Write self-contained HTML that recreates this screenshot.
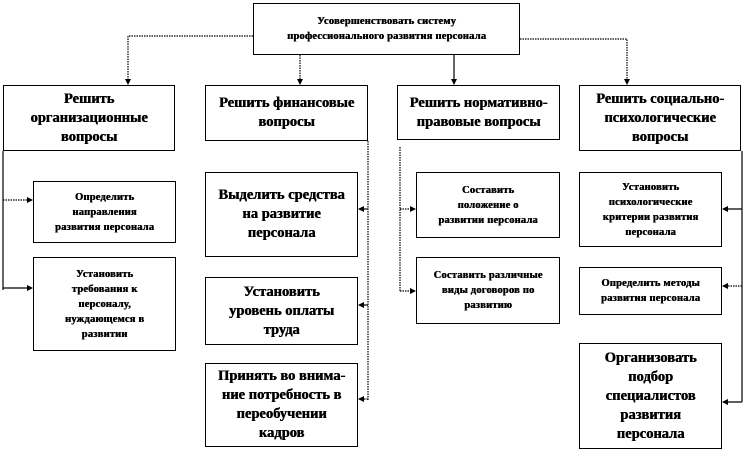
<!DOCTYPE html>
<html><head><meta charset="utf-8"><style>
body{margin:0;width:745px;height:453px;background:#fff;position:relative;overflow:hidden}
.b{position:absolute;box-sizing:border-box;border:1px solid #000;background:#fff;display:flex;align-items:center;justify-content:center;text-align:center;font-family:"Liberation Serif","DejaVu Serif",serif;font-weight:bold;color:#000;text-shadow:0.5px 0 0 #000}
.s{font-size:10.5px;line-height:15px;letter-spacing:0.2px}
.m{font-size:14.5px;line-height:19px}
svg{position:absolute;left:0;top:0}
</style></head><body>
<svg width="745" height="453">
<defs><marker id="a" markerWidth="6" markerHeight="6" refX="5" refY="3" orient="auto" markerUnits="userSpaceOnUse"><path d="M0,0L6,3L0,6z" fill="#000"/></marker></defs>
<g stroke="#000" stroke-width="1.2" fill="none">
<polyline points="253,36 128,36 128,84" stroke-dasharray="1.5,1" marker-end="url(#a)"/>
<line x1="300" y1="55" x2="300" y2="84" stroke-dasharray="1.5,1" marker-end="url(#a)"/>
<line x1="454" y1="55" x2="454" y2="84" marker-end="url(#a)"/>
<polyline points="520,39 627,39 627,84" stroke-dasharray="1.5,1" marker-end="url(#a)"/>
<line x1="3" y1="151" x2="3" y2="290"/>
<line x1="3" y1="200" x2="32" y2="200" stroke-dasharray="1.5,1" marker-end="url(#a)"/>
<line x1="3" y1="288" x2="32" y2="288" marker-end="url(#a)"/>
<line x1="368" y1="141" x2="368" y2="400" stroke-dasharray="1.5,1"/>
<line x1="368" y1="209" x2="359" y2="209" marker-end="url(#a)"/>
<line x1="368" y1="305" x2="359" y2="305" marker-end="url(#a)"/>
<line x1="368" y1="399" x2="359" y2="399" stroke-dasharray="1.5,1" marker-end="url(#a)"/>
<line x1="400" y1="147" x2="400" y2="291" stroke-dasharray="1.5,1"/>
<line x1="400" y1="209" x2="415" y2="209" stroke-dasharray="1.5,1" marker-end="url(#a)"/>
<line x1="400" y1="291" x2="415" y2="291" stroke-dasharray="1.5,1" marker-end="url(#a)"/>
<line x1="742" y1="151" x2="742" y2="402"/>
<line x1="742" y1="209" x2="723" y2="209" marker-end="url(#a)"/>
<line x1="742" y1="286" x2="723" y2="286" stroke-dasharray="1.5,1" marker-end="url(#a)"/>
<line x1="742" y1="402" x2="723" y2="402" marker-end="url(#a)"/>
</g></svg>
<div class="b s" style="left:253px;top:3px;width:267px;height:52px">Усовершенствовать систему<br>профессионального развития персонала</div>
<div class="b m" style="left:3px;top:85px;width:172px;height:66px">Решить<br>организационные<br>вопросы</div>
<div class="b m" style="left:205px;top:85px;width:163px;height:56px">Решить финансовые<br>вопросы</div>
<div class="b m" style="left:397px;top:85px;width:163px;height:55px">Решить нормативно-<br>правовые вопросы</div>
<div class="b m" style="left:579px;top:85px;width:162px;height:66px">Решить социально-<br>психологические<br>вопросы</div>
<div class="b s" style="left:33px;top:181px;width:143px;height:62px">Определить<br>направления<br>развития персонала</div>
<div class="b s" style="left:33px;top:257px;width:143px;height:94px">Установить<br>требования к<br>персоналу,<br>нуждающемся в<br>развитии</div>
<div class="b m" style="left:205px;top:172px;width:153px;height:85px">Выделить средства<br>на развитие<br>персонала</div>
<div class="b m" style="left:205px;top:277px;width:153px;height:68px">Установить<br>уровень оплаты<br>труда</div>
<div class="b m" style="left:205px;top:363px;width:153px;height:84px">Принять во внима-<br>ние потребность в<br>переобучении<br>кадров</div>
<div class="b s" style="left:416px;top:172px;width:144px;height:66px">Составить<br>положение о<br>развитии персонала</div>
<div class="b s" style="left:416px;top:257px;width:144px;height:67px">Составить различные<br>виды договоров по<br>развитию</div>
<div class="b s" style="left:579px;top:172px;width:143px;height:75px">Установить<br>психологические<br>критерии развития<br>персонала</div>
<div class="b s" style="left:579px;top:267px;width:143px;height:48px">Определить методы<br>развития персонала</div>
<div class="b m" style="left:579px;top:343px;width:143px;height:106px">Организовать<br>подбор<br>специалистов<br>развития<br>персонала</div>
</body></html>
